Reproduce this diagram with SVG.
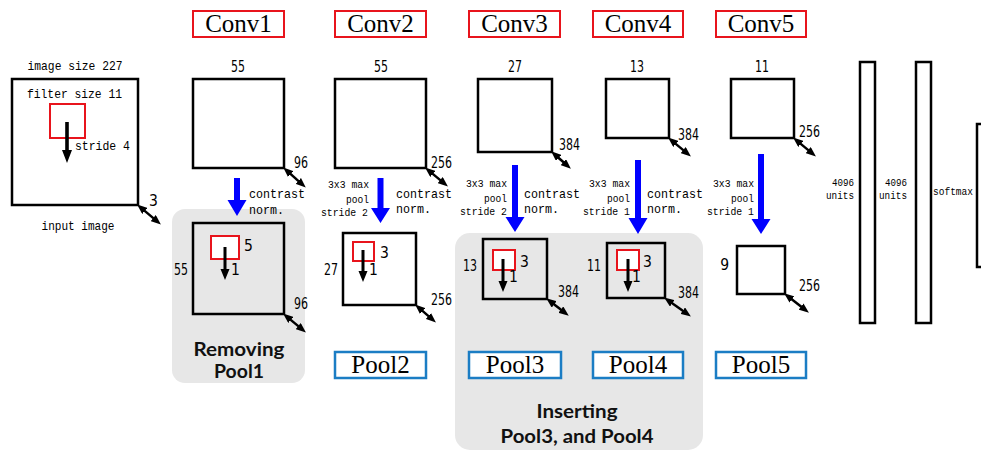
<svg xmlns="http://www.w3.org/2000/svg" width="981" height="452" viewBox="0 0 981 452">
  <defs>
    <style>
      .box { fill: #ffffff; stroke: #000000; stroke-width: 2.5; }
      .fbox { fill: none; stroke: #000000; stroke-width: 2.5; }
      .filt { fill: #ffffff; stroke: #e8141c; stroke-width: 2; }
      .conv { fill: #ffffff; stroke: #e8141c; stroke-width: 2; }
      .pool { fill: #ffffff; stroke: #1b7dc4; stroke-width: 2.5; }
      .panel { fill: #e7e7e7; stroke: none; }
      .lbl { font-family: "Liberation Serif", "Times New Roman", serif; font-size: 25px; fill: #000; text-anchor: middle; }
      .mono { font-family: "Liberation Mono", "DejaVu Sans Mono", monospace; font-size: 13px; fill: #000; }
      .sm { font-family: "Liberation Mono", "DejaVu Sans Mono", monospace; font-size: 11.5px; fill: #000; }
      .tiny { font-family: "Liberation Mono", "DejaVu Sans Mono", monospace; font-size: 11px; fill: #000; }
      .num { font-family: "Liberation Sans Narrow", "DejaVu Sans Condensed", "Liberation Sans", sans-serif; font-size: 15.5px; fill: #000; }
      .bold { font-family: Lato, "Open Sans", "Liberation Sans", sans-serif; font-weight: bold; font-size: 19.5px; fill: #111; text-anchor: middle; }
      .end { text-anchor: end; }
      .mid { text-anchor: middle; }
      .dim { stroke: #000; stroke-width: 2.5; fill: none; marker-start: url(#dimhead); marker-end: url(#dimhead); }
      .blue { fill: #0000ff; }
      .stride { fill: #000; }
    </style>
    <marker id="dimhead" markerUnits="userSpaceOnUse" markerWidth="10" markerHeight="8" refX="4" refY="4" orient="auto-start-reverse">
      <path d="M0,0 L10,4 L0,8 z" fill="#000"/>
    </marker>
  </defs>

  <!-- grey highlight panels -->
  <rect class="panel" x="172" y="209" width="133" height="174" rx="13"/>
  <rect class="panel" x="455" y="233" width="248" height="217" rx="15"/>

  <!-- layer titles -->
  <g id="conv1-label"><rect class="conv" x="193" y="11" width="91" height="26"/><text class="lbl" x="238.5" y="32">Conv1</text></g>
  <g id="conv2-label"><rect class="conv" x="335" y="11" width="91" height="26"/><text class="lbl" x="380.5" y="32">Conv2</text></g>
  <g id="conv3-label"><rect class="conv" x="469" y="11" width="91" height="26"/><text class="lbl" x="514.5" y="32">Conv3</text></g>
  <g id="conv4-label"><rect class="conv" x="593" y="11" width="90" height="26"/><text class="lbl" x="638" y="32">Conv4</text></g>
  <g id="conv5-label"><rect class="conv" x="716" y="11" width="90" height="26"/><text class="lbl" x="761" y="32">Conv5</text></g>

  <g id="pool2-label"><rect class="pool" x="335" y="352" width="91" height="26"/><text class="lbl" x="380.5" y="373">Pool2</text></g>
  <g id="pool3-label"><rect class="pool" x="469" y="352" width="92" height="26"/><text class="lbl" x="515" y="373">Pool3</text></g>
  <g id="pool4-label"><rect class="pool" x="593" y="352" width="90" height="26"/><text class="lbl" x="638" y="373">Pool4</text></g>
  <g id="pool5-label"><rect class="pool" x="716" y="352" width="90" height="26"/><text class="lbl" x="761" y="373">Pool5</text></g>

  <!-- input image -->
  <g id="input">
    <text class="mono mid" x="75" y="70" textLength="95" lengthAdjust="spacingAndGlyphs">image size 227</text>
    <rect class="box" x="12" y="79" width="126" height="126"/>
    <text class="mono" x="27" y="98" textLength="95" lengthAdjust="spacingAndGlyphs">filter size 11</text>
    <rect class="filt" x="50" y="104" width="35" height="34"/>
    <text class="mono" x="75" y="150" textLength="55" lengthAdjust="spacingAndGlyphs">stride 4</text>
    <text class="num" x="149" y="206">3</text>
    <text class="mono mid" x="78" y="230" textLength="73" lengthAdjust="spacingAndGlyphs">input image</text>
  </g>

  <!-- convolution feature maps -->
  <g id="conv1">
    <text class="num mid" x="238" y="72" textLength="14" lengthAdjust="spacingAndGlyphs">55</text>
    <rect class="box" x="193" y="79" width="91" height="89"/>
    <text class="num" x="294" y="168" textLength="14" lengthAdjust="spacingAndGlyphs">96</text>
    <text class="mono" x="249" y="198" textLength="56" lengthAdjust="spacingAndGlyphs">contrast</text>
    <text class="mono" x="249" y="214" textLength="35" lengthAdjust="spacingAndGlyphs">norm.</text>
  </g>
  <g id="conv2">
    <text class="num mid" x="381" y="72" textLength="14" lengthAdjust="spacingAndGlyphs">55</text>
    <rect class="box" x="335" y="79" width="91" height="89"/>
    <text class="num" x="431" y="168" textLength="21" lengthAdjust="spacingAndGlyphs">256</text>
    <text class="sm end" x="369" y="188" textLength="41" lengthAdjust="spacingAndGlyphs">3x3 max</text>
    <text class="sm end" x="369" y="203" textLength="23" lengthAdjust="spacingAndGlyphs">pool</text>
    <text class="sm end" x="368" y="216" textLength="47" lengthAdjust="spacingAndGlyphs">stride 2</text>
    <text class="mono" x="396" y="198" textLength="56" lengthAdjust="spacingAndGlyphs">contrast</text>
    <text class="mono" x="396" y="213" textLength="35" lengthAdjust="spacingAndGlyphs">norm.</text>
  </g>
  <g id="conv3">
    <text class="num mid" x="515" y="72" textLength="14" lengthAdjust="spacingAndGlyphs">27</text>
    <rect class="box" x="478" y="79" width="74" height="73"/>
    <text class="num" x="559" y="150" textLength="21" lengthAdjust="spacingAndGlyphs">384</text>
    <text class="sm end" x="507" y="187" textLength="41" lengthAdjust="spacingAndGlyphs">3x3 max</text>
    <text class="sm end" x="507" y="202" textLength="23" lengthAdjust="spacingAndGlyphs">pool</text>
    <text class="sm end" x="507" y="215" textLength="47" lengthAdjust="spacingAndGlyphs">stride 2</text>
    <text class="mono" x="524" y="198" textLength="56" lengthAdjust="spacingAndGlyphs">contrast</text>
    <text class="mono" x="524" y="213" textLength="35" lengthAdjust="spacingAndGlyphs">norm.</text>
  </g>
  <g id="conv4">
    <text class="num mid" x="637" y="72" textLength="14" lengthAdjust="spacingAndGlyphs">13</text>
    <rect class="box" x="606" y="79" width="63" height="59"/>
    <text class="num" x="678" y="140" textLength="21" lengthAdjust="spacingAndGlyphs">384</text>
    <text class="sm end" x="630" y="187" textLength="41" lengthAdjust="spacingAndGlyphs">3x3 max</text>
    <text class="sm end" x="630" y="202" textLength="23" lengthAdjust="spacingAndGlyphs">pool</text>
    <text class="sm end" x="630" y="215" textLength="47" lengthAdjust="spacingAndGlyphs">stride 1</text>
    <text class="mono" x="647" y="198" textLength="56" lengthAdjust="spacingAndGlyphs">contrast</text>
    <text class="mono" x="647" y="213" textLength="35" lengthAdjust="spacingAndGlyphs">norm.</text>
  </g>
  <g id="conv5">
    <text class="num mid" x="762" y="72" textLength="14" lengthAdjust="spacingAndGlyphs">11</text>
    <rect class="box" x="731" y="79" width="63" height="59"/>
    <text class="num" x="799" y="137" textLength="21" lengthAdjust="spacingAndGlyphs">256</text>
    <text class="sm end" x="754" y="187" textLength="41" lengthAdjust="spacingAndGlyphs">3x3 max</text>
    <text class="sm end" x="754" y="202" textLength="23" lengthAdjust="spacingAndGlyphs">pool</text>
    <text class="sm end" x="754" y="215" textLength="47" lengthAdjust="spacingAndGlyphs">stride 1</text>
  </g>

  <!-- pooled / normalised maps -->
  <g id="pool1">
    <rect class="box" x="193" y="223" width="91" height="91" style="fill:none"/>
    <rect class="filt" x="211" y="236" width="28" height="23"/>
    <text class="num" x="244" y="251">5</text>
    <text class="num" x="231" y="275">1</text>
    <text class="num end" x="188" y="275" textLength="14" lengthAdjust="spacingAndGlyphs">55</text>
    <text class="num" x="294" y="309" textLength="14" lengthAdjust="spacingAndGlyphs">96</text>
    <text class="bold" x="239" y="356" textLength="91" lengthAdjust="spacingAndGlyphs">Removing</text>
    <text class="bold" x="239" y="378" textLength="50" lengthAdjust="spacingAndGlyphs">Pool1</text>
  </g>
  <g id="pool2">
    <rect class="box" x="343" y="233" width="73" height="72"/>
    <rect class="filt" x="353" y="242" width="21" height="19"/>
    <text class="num" x="380" y="258">3</text>
    <text class="num" x="369" y="275">1</text>
    <text class="num end" x="338" y="275" textLength="14" lengthAdjust="spacingAndGlyphs">27</text>
    <text class="num" x="431" y="305" textLength="21" lengthAdjust="spacingAndGlyphs">256</text>
  </g>
  <g id="pool3">
    <rect class="box" x="483" y="239" width="64" height="60" style="fill:none"/>
    <rect class="filt" x="493" y="250" width="22" height="20"/>
    <text class="num" x="520" y="267">3</text>
    <text class="num" x="509" y="282">1</text>
    <text class="num end" x="477" y="271" textLength="14" lengthAdjust="spacingAndGlyphs">13</text>
    <text class="num" x="558" y="297" textLength="21" lengthAdjust="spacingAndGlyphs">384</text>
  </g>
  <g id="pool4">
    <rect class="box" x="607" y="243" width="58" height="55" style="fill:none"/>
    <rect class="filt" x="617" y="250" width="22" height="20"/>
    <text class="num" x="643" y="267">3</text>
    <text class="num" x="632" y="282">1</text>
    <text class="num end" x="601" y="271" textLength="14" lengthAdjust="spacingAndGlyphs">11</text>
    <text class="num" x="678" y="298" textLength="21" lengthAdjust="spacingAndGlyphs">384</text>
  </g>
  <g id="pool5">
    <rect class="box" x="737" y="246" width="48" height="48"/>
    <text class="num end" x="729" y="270">9</text>
    <text class="num" x="799" y="291" textLength="21" lengthAdjust="spacingAndGlyphs">256</text>
  </g>
  <g id="insert-note">
    <text class="bold" x="577" y="418" textLength="81" lengthAdjust="spacingAndGlyphs">Inserting</text>
    <text class="bold" x="577" y="443" textLength="153" lengthAdjust="spacingAndGlyphs">Pool3, and Pool4</text>
  </g>

  <!-- fully connected layers -->
  <g id="fc6">
    <rect class="fbox" x="860" y="62" width="15" height="261"/>
    <text class="tiny end" x="854" y="186" textLength="22" lengthAdjust="spacingAndGlyphs">4096</text>
    <text class="tiny end" x="854" y="199" textLength="28" lengthAdjust="spacingAndGlyphs">units</text>
  </g>
  <g id="fc7">
    <rect class="fbox" x="916" y="62" width="15" height="261"/>
    <text class="tiny end" x="907" y="186" textLength="22" lengthAdjust="spacingAndGlyphs">4096</text>
    <text class="tiny end" x="907" y="199" textLength="28" lengthAdjust="spacingAndGlyphs">units</text>
  </g>
  <g id="softmax">
    <text class="tiny" x="933" y="195" textLength="40" lengthAdjust="spacingAndGlyphs">softmax</text>
    <rect class="fbox" x="977" y="124" width="20" height="143"/>
  </g>

  <!-- connectors -->
  <g id="connectors">
    <!-- layer-to-layer flow -->
    <path class="blue" d="M234,178 H240 V200 H246.5 L237,216 L227.5,200 H234 Z"/>
    <path class="blue" d="M377.5,178 H383.5 V208 H390 L380.5,223 L371,208 H377.5 Z"/>
    <path class="blue" d="M512,165 H518 V217 H524.5 L515,232 L505.5,217 H512 Z"/>
    <path class="blue" d="M635,160 H641 V218 H647.5 L638,234 L628.5,218 H635 Z"/>
    <path class="blue" d="M758,154 H764 V219 H770.5 L761,234 L751.5,219 H758 Z"/>

    <!-- filter stride arrows -->
    <path class="stride" d="M65.2,122 H68.8 V150 H72 L67,163 L62,150 H65.2 Z"/>
    <path class="stride" d="M223.5,247 H226.5 V269 H229.5 L225,280 L220.5,269 H223.5 Z"/>
    <path class="stride" d="M361.5,250 H364.5 V271 H367.5 L363,282 L358.5,271 H361.5 Z"/>
    <path class="stride" d="M501.5,259 H504.5 V281 H507.5 L503,292 L498.5,281 H501.5 Z"/>
    <path class="stride" d="M626.5,259 H629.5 V281 H632.5 L628,292 L623.5,281 H626.5 Z"/>

    <!-- depth indicators -->
    <line class="dim" x1="141.7" y1="208.4" x2="156.3" y2="220.6"/>
    <line class="dim" x1="287.7" y1="171.4" x2="301.3" y2="183.6"/>
    <line class="dim" x1="429.7" y1="171.4" x2="443.3" y2="182.6"/>
    <line class="dim" x1="555.6" y1="155.2" x2="566.4" y2="164.8"/>
    <line class="dim" x1="672.7" y1="141.4" x2="686.3" y2="152.6"/>
    <line class="dim" x1="797.7" y1="141.4" x2="811.3" y2="152.6"/>
    <line class="dim" x1="287.7" y1="317.4" x2="301.3" y2="328.6"/>
    <line class="dim" x1="419.6" y1="308.4" x2="431.4" y2="318.6"/>
    <line class="dim" x1="551" y1="302" x2="564" y2="312"/>
    <line class="dim" x1="669" y1="301" x2="686" y2="313"/>
    <line class="dim" x1="788.8" y1="297" x2="804.2" y2="309"/>
  </g>
</svg>
